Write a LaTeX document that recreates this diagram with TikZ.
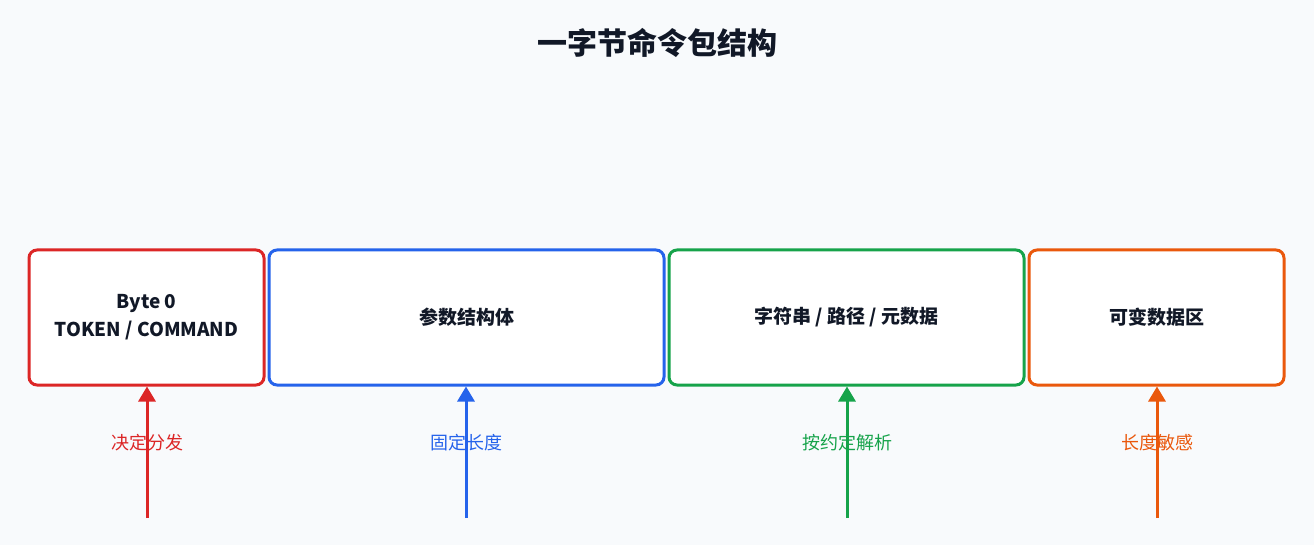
\documentclass[tikz,border=0pt]{standalone}
\usepackage{fontspec}
\setmainfont{Noto Sans CJK SC}
\usetikzlibrary{positioning,arrows.meta}
\definecolor{bg}{HTML}{F8FAFC}
\definecolor{ink}{HTML}{111827}
\definecolor{cred}{HTML}{DC2626}
\definecolor{cblue}{HTML}{2563EB}
\definecolor{cgreen}{HTML}{16A34A}
\definecolor{corange}{HTML}{EA580C}
\tikzset{
  field/.style={draw=#1, line width=3pt, rounded corners=8pt, fill=white,
    minimum height=135pt, inner sep=0pt, font=\bfseries\fontsize{19}{28}\selectfont,
    text=ink, align=center},
  note/.style={text=#1, font=\fontsize{18}{22}\selectfont},
  pointer/.style={draw=#1, line width=3pt, -{Triangle[length=15pt,width=17pt]}}
}
\begin{document}
\begin{tikzpicture}[x=1pt,y=-1pt]
\fill[bg] (0,0) rectangle (1314,545);
\useasboundingbox (0,0) rectangle (1314,545);

\node [font=\bfseries\fontsize{30}{36}\selectfont, text=ink] (title) at (657,43) {一字节命令包结构};

% Felder
\node [field=cred, minimum width=235pt] (tok) at (146.5,317.5) {Byte 0\\TOKEN / COMMAND};
\node [field=cblue, minimum width=395pt] (par) at (466.5,317.5) {参数结构体};
\node [field=cgreen, minimum width=355pt] (str) at (846.5,317.5) {字符串 / 路径 / 元数据};
\node [field=corange, minimum width=255pt] (var) at (1156.5,317.5) {可变数据区};

% Pfeile
\coordinate (ta) at (147,518);
\coordinate (pa) at (466,518);
\coordinate (sa) at (847,518);
\coordinate (va) at (1157,518);
\draw [pointer=cred] (ta) -- (tok.south -| ta);
\draw [pointer=cblue] (pa) -- (par.south -| pa);
\draw [pointer=cgreen] (sa) -- (str.south -| sa);
\draw [pointer=corange] (va) -- (var.south -| va);

\node [note=cred] (tl) at (147,443) {决定分发};
\node [note=cblue] (pl) at (466,443) {固定长度};
\node [note=cgreen] (sl) at (847,443) {按约定解析};
\node [note=corange] (vl) at (1157,443) {长度敏感};
\end{tikzpicture}
\end{document}
